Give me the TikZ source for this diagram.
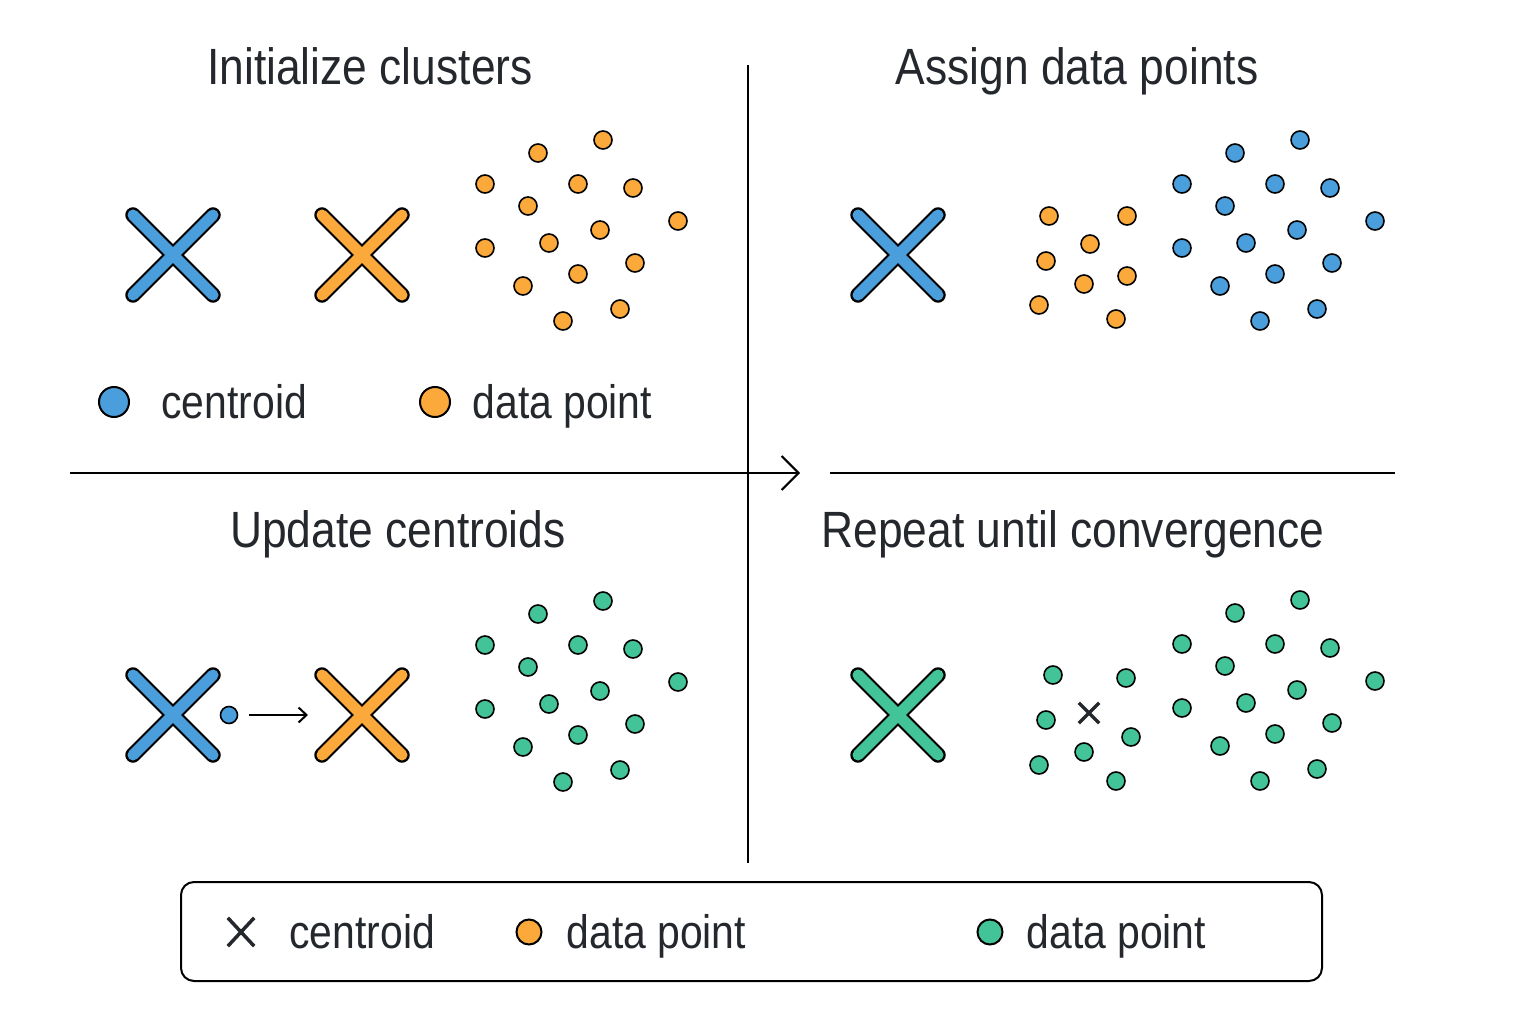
\documentclass[tikz,border=0pt]{standalone}
\usepackage{fontspec}
\setmainfont{Liberation Sans}[FakeStretch=0.87]
\usetikzlibrary{arrows.meta}
\definecolor{cblue}{RGB}{74,158,219}
\definecolor{corange}{RGB}{251,169,58}
\definecolor{cgreen}{RGB}{67,196,152}
\definecolor{ink}{RGB}{36,40,45}
\tikzset{
  dot/.style={circle,draw=black,line width=1.6pt,minimum size=18pt,inner sep=0pt},
  keydot/.style={dot,line width=2pt},
  heading/.style={anchor=base,text=ink,font=\fontsize{51}{56}\selectfont},
  keytext/.style={anchor=base west,text=ink,font=\fontsize{47}{52}\selectfont},
  crossbox/.style={minimum size=80pt,inner sep=0pt,outer sep=0pt},
  divider/.style={line width=2pt,draw=black},
}
% big centroid cross: name, position, colour
\newcommand\clustercross[3]{%
  \node[crossbox] (#1) at (#2) {};
  \draw[line width=15.5pt,line cap=round] (#1.north west) -- (#1.south east) (#1.south west) -- (#1.north east);
  \draw[line width=11pt,line cap=round,draw=#3] (#1.north west) -- (#1.south east) (#1.south west) -- (#1.north east);
}
% large cloud of points
\def\cloud{538/153,603/140,485/184,578/184,633/188,528/206,678/221,600/230,549/243,485/248,635/263,578/274,523/286,620/309,563/321}
\begin{document}
\begin{tikzpicture}[x=1pt,y=-1pt]
  \useasboundingbox (0,0) rectangle (1536,1024);
  %% dividers
  \coordinate (vt) at (748,65);
  \coordinate (vb) at (748,863);
  \coordinate (hl) at (70,473);
  \coordinate (hr) at (800,473);
  \coordinate (gl) at (830,473);
  \coordinate (gr) at (1395,473);
  \draw[divider] (vt) -- (vb);
  \draw[divider,-{Straight Barb[length=17pt,width=34pt]}] (hl) -- (hr);
  \draw[divider] (gl) -- (gr);
  %% headings
  \node[heading] (t1) at (370,85) {Initialize clusters};
  \node[heading] (t2) at (1077,85) {Assign data points};
  \node[heading] (t3) at (398,547) {Update centroids};
  \node[heading] (t4) at (1073,547) {Repeat until convergence};
  %% initialize clusters
  \clustercross{c1}{173,255}{cblue}
  \clustercross{c2}{362,255}{corange}
  \foreach \x/\y [count=\i] in \cloud
    \node[dot,fill=corange] (p\i) at (\x,\y) {};
  \node[keydot,minimum size=30pt,fill=cblue] (k1) at (114,402) {};
  \node[keytext] (k1t) at (158,418) {centroid};
  \node[keydot,minimum size=30pt,fill=corange] (k2) at (435,402) {};
  \node[keytext] (k2t) at (469,418) {data point};
  %% assign data points
  \clustercross{c3}{898,255}{cblue}
  \foreach \x/\y [count=\i] in {1049/216,1127/216,1090/244,1046/261,1127/276,1084/284,1039/305,1116/319}
    \node[dot,fill=corange] (q\i) at (\x,\y) {};
  \foreach \x/\y [count=\i] in \cloud
    \node[dot,fill=cblue] (r\i) at ({\x+697},\y) {};
  %% update centroids
  \clustercross{c4}{173,715}{cblue}
  \clustercross{c5}{362,715}{corange}
  \node[dot,minimum size=17pt,fill=cblue] (moved) at (229,715) {};
  \draw[line width=2pt,-{Straight Barb[length=8pt,width=15pt]},shorten <=11pt,shorten >=14pt] (moved) -- (c5.west);
  \foreach \x/\y [count=\i] in \cloud
    \node[dot,fill=cgreen] (s\i) at (\x,{\y+461}) {};
  %% repeat until convergence
  \clustercross{c6}{898,715}{cgreen}
  \foreach \x/\y [count=\i] in {1053/675,1126/678,1046/720,1131/737,1084/752,1039/765,1116/781}
    \node[dot,fill=cgreen] (u\i) at (\x,\y) {};
  \node[inner sep=0pt,minimum size=20pt] (mean) at (1089,713) {};
  \draw[ink,line width=3.5pt] (mean.north west) -- (mean.south east) (mean.south west) -- (mean.north east);
  \foreach \x/\y [count=\i] in \cloud
    \node[dot,fill=cgreen] (v\i) at ({\x+697},{\y+460}) {};
  %% legend
  \node[draw,line width=2pt,rounded corners=13pt,minimum width=1141pt,minimum height=99pt] (key) at (751.5,931.5) {};
  \node[inner sep=0pt,minimum width=26pt,minimum height=28pt] (kx) at (241,932) {};
  \draw[ink,line width=3.5pt] (kx.north west) -- (kx.south east) (kx.south west) -- (kx.north east);
  \node[keytext] (kxt) at (286,948) {centroid};
  \node[keydot,minimum size=25pt,fill=corange] (ko) at (529,932) {};
  \node[keytext] (kot) at (563,948) {data point};
  \node[keydot,minimum size=25pt,fill=cgreen] (kg) at (990,932) {};
  \node[keytext] (kgt) at (1023,948) {data point};
\end{tikzpicture}
\end{document}
